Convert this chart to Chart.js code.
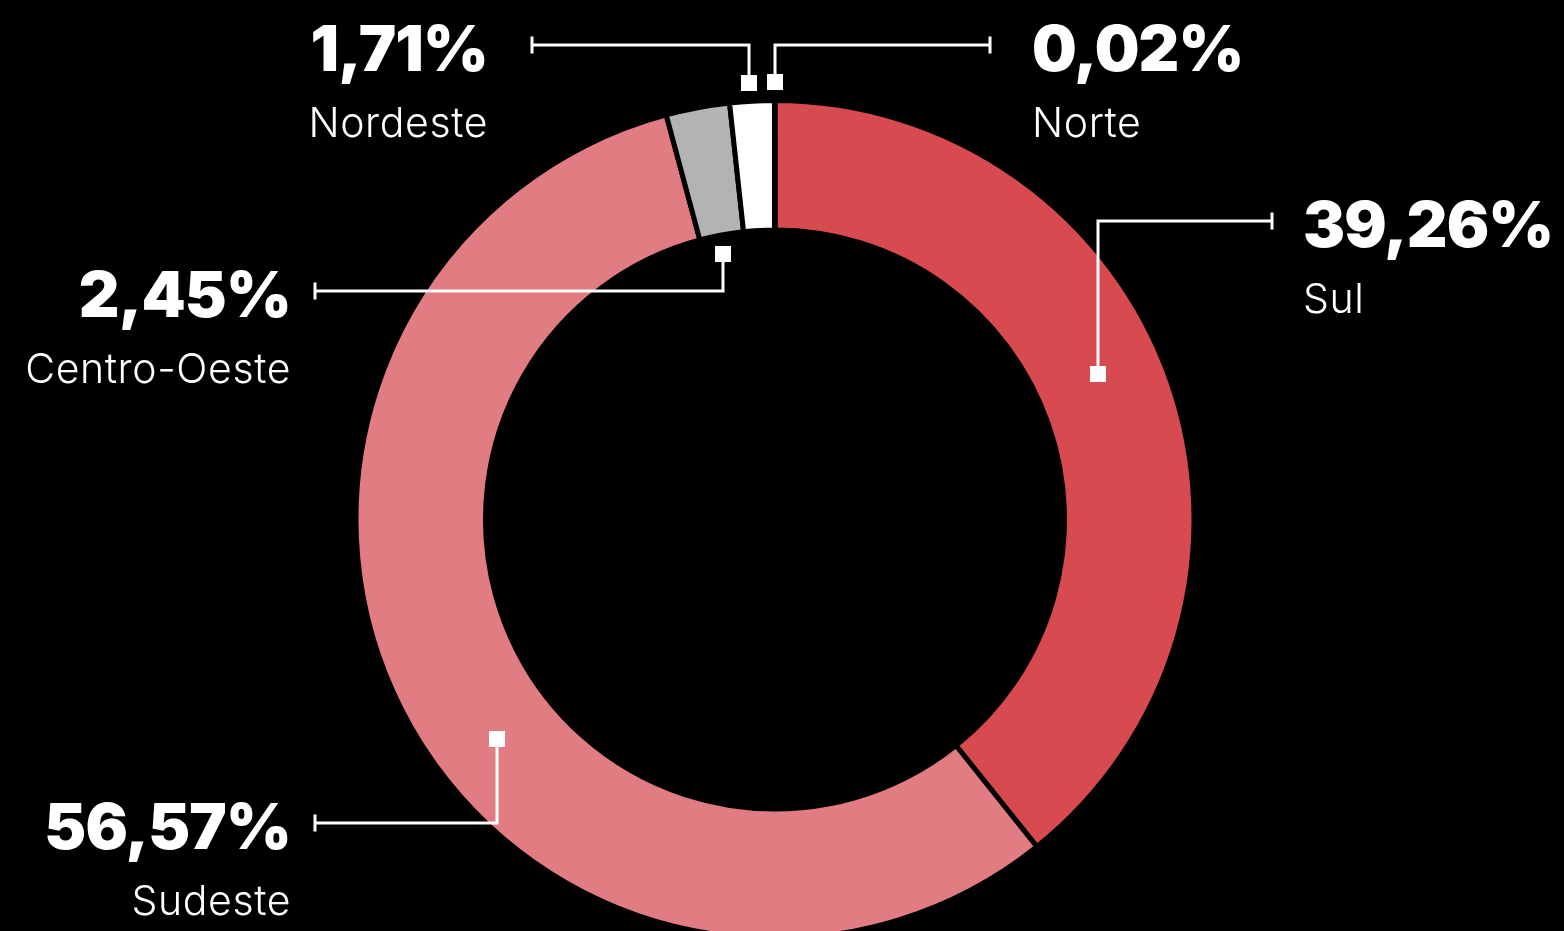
<!DOCTYPE html>
<html lang="pt-BR">
  <head>
    <meta charset="UTF-8" />
    <title>Distribuição por região</title>
    <script src="https://cdn.jsdelivr.net/npm/chart.js"></script>
    <style>
      * {
        box-sizing: border-box;
        padding: 0;
        margin: 0;
      }
      body {
        background: #000;
        overflow: hidden;
      }
      .wrap {
        position: relative;
        width: 1564px;
        height: 931px;
      }
    </style>
  </head>
  <body>
    <div class="wrap">
      <canvas id="regioes"></canvas>
    </div>
    <script>
      // share per region, clockwise from 12 o'clock
      const regions = ["Sul", "Sudeste", "Centro-Oeste", "Nordeste", "Norte"];
      const shares = [39.26, 56.57, 2.45, 1.71, 0.02];
      const colors = ["#d64a50", "#e17d82", "#b3b3b3", "#ffffff", "#ffffff"];

      // callout layout: where the marker sits on the arc, where the elbow
      // turns, where the end tick and the text go
      const callouts = [
        { at: 0.465, depth: 0.5, elbowY: 221, tickX: 1272, textX: 1303, side: "left" },
        { at: 0.444, depth: 0.5, elbowY: 823, tickX: 315, textX: 291, side: "right" },
        { at: 0.45, depth: -0.145, elbowY: 291, tickX: 315, textX: 291, side: "right" },
        { at: 0.45, depth: 1.143, elbowY: 45, tickX: 532, textX: 488, side: "right" },
        { at: 0.5, depth: 1.143, elbowY: 45, tickX: 990, textX: 1032, side: "left" },
      ];

      const fmt = (v) => v.toFixed(2).replace(".", ",") + "%";

      const calloutPlugin = {
        id: "callouts",
        afterDraw(chart) {
          const ctx = chart.ctx;
          const arcs = chart.getDatasetMeta(0).data;
          ctx.save();
          ctx.strokeStyle = "#fff";
          ctx.fillStyle = "#fff";
          ctx.lineWidth = 3;
          arcs.forEach((arc, i) => {
            const c = callouts[i];
            const { x, y, startAngle, endAngle, innerRadius, outerRadius } =
              arc.getProps(["x", "y", "startAngle", "endAngle", "innerRadius", "outerRadius"], true);
            const a = startAngle + c.at * (endAngle - startAngle);
            const r = innerRadius + c.depth * (outerRadius - innerRadius);
            const mx = Math.round(x + r * Math.cos(a));
            const my = Math.round(y + r * Math.sin(a));

            // marker
            ctx.fillRect(mx - 8, my - 8, 16, 16);

            // elbow line + end tick
            ctx.beginPath();
            ctx.moveTo(mx, my);
            ctx.lineTo(mx, c.elbowY);
            ctx.lineTo(c.tickX, c.elbowY);
            ctx.moveTo(c.tickX, c.elbowY - 8.5);
            ctx.lineTo(c.tickX, c.elbowY + 8.5);
            ctx.stroke();

            // texts
            ctx.textAlign = c.side;
            ctx.textBaseline = "alphabetic";
            ctx.letterSpacing = "-0.8px";
            ctx.font = "900 63px Inter, 'Open Sans', sans-serif";
            ctx.fillText(fmt(shares[i]), c.textX, c.elbowY + 26);
            ctx.letterSpacing = "0.6px";
            ctx.font = "300 41px Inter, 'Open Sans', sans-serif";
            ctx.fillText(regions[i], c.textX, c.elbowY + 92);
          });
          ctx.restore();
        },
      };

      new Chart(document.getElementById("regioes"), {
        type: "doughnut",
        data: {
          labels: regions,
          datasets: [
            {
              data: shares,
              backgroundColor: colors,
              borderColor: "#000",
              borderWidth: 5,
              clip: false,
            },
          ],
        },
        options: {
          responsive: true,
          maintainAspectRatio: false,
          animation: false,
          radius: 419,
          cutout: "69.1%",
          layout: {
            padding: { top: 108, bottom: 0, left: 0, right: 14 },
          },
          plugins: {
            legend: { display: false },
            tooltip: { enabled: false },
          },
        },
        plugins: [calloutPlugin],
      });
    </script>
  </body>
</html>
